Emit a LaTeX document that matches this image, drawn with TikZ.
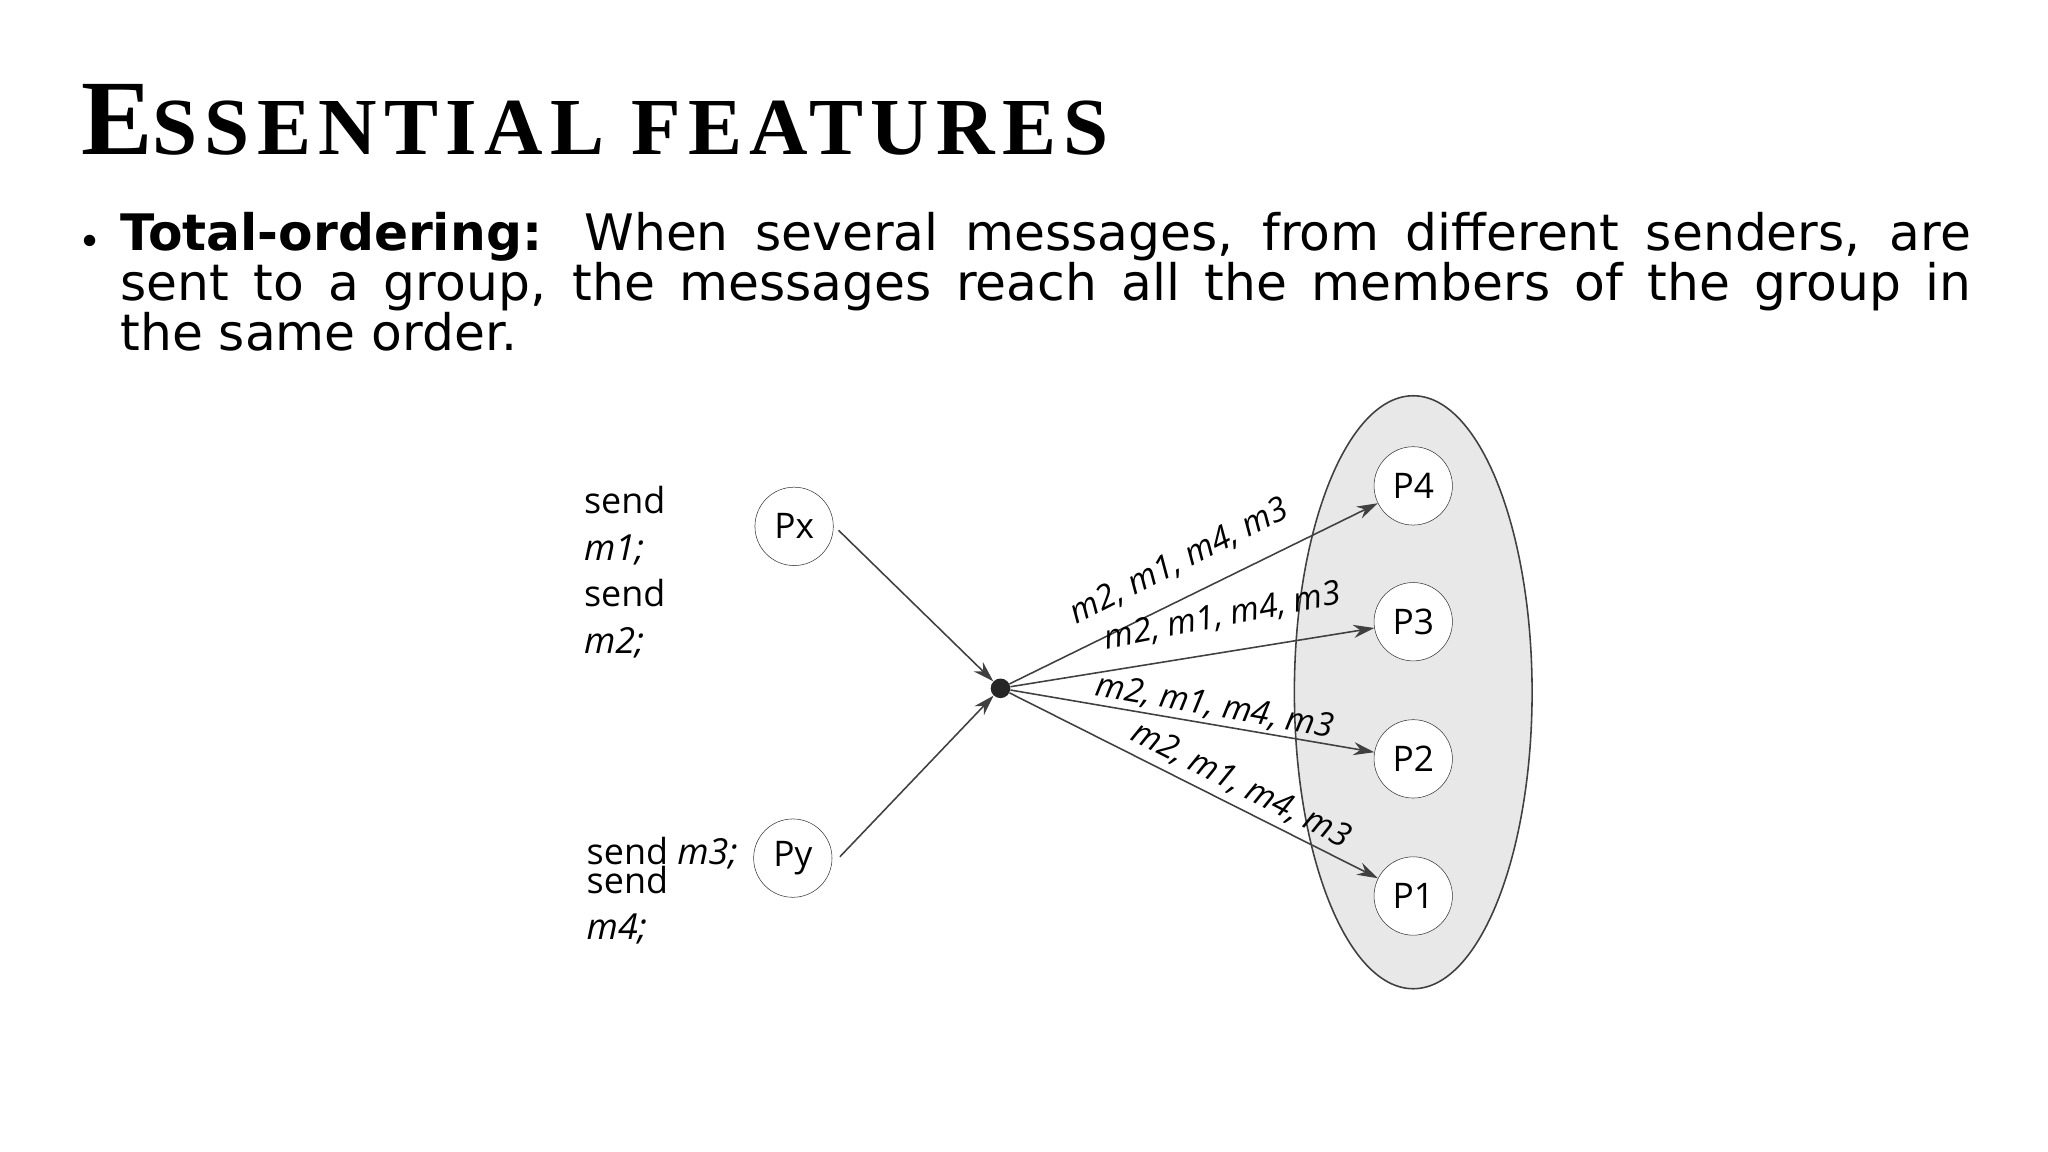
\documentclass[tikz,border=0pt]{standalone}
\usepackage{fontspec}
\setmainfont{DejaVu Sans}
\newfontfamily\titlefont[LetterSpace=9]{Liberation Serif}
\newfontfamily\diafont{Open Sans}
\usetikzlibrary{arrows.meta}
\tikzset{
  proc/.style={circle,draw=black!80,fill=white,minimum size=60pt,inner sep=0pt,font=\diafont\fontsize{27}{30}\selectfont},
  msg/.style={-{Stealth[length=16pt,width=10pt]},draw=black!75,line width=1.2pt},
  lab/.style={font=\diafont\itshape\fontsize{25.5}{27}\selectfont,inner sep=0pt},
  side/.style={font=\diafont\fontsize{27.5}{30}\selectfont,anchor=base west,inner sep=0pt}
}
\begin{document}
\begin{tikzpicture}[x=1pt,y=-1pt]
\useasboundingbox (0,0) rectangle (1568,882);
\node[anchor=base west,inner sep=0pt] (title) at (62,118) {\titlefont\bfseries\fontsize{82}{82}\selectfont E\fontsize{62}{62}\selectfont SSENTIAL FEATURES};
\node[anchor=base west,inner sep=0pt] (bul) at (60,196) {\fontsize{30}{40}\selectfont •};
\node[anchor=north west,inner sep=0pt,text width=1417pt,align=justify] (body) at (92,162)
 {\fontsize{38.5}{42.5}\selectfont \textbf{Total-ordering:} When several messages, from different senders, are\linebreak sent to a group, the messages reach all the members of the group in\linebreak the same order.};
\draw[black!75,fill=black!9,line width=1.2pt] (1082,530) ellipse [x radius=91,y radius=227];
\node[proc] (px) at (608,403) {Px};
\node[proc] (py) at (607,657) {Py};
\node[proc] (p4) at (1082,372) {P4};
\node[proc] (p3) at (1082,476) {P3};
\node[proc] (p2) at (1082,581) {P2};
\node[proc] (p1) at (1082,686) {P1};
\node[circle,fill=black!85,minimum size=15pt,inner sep=0pt] (d) at (766,527) {};
\coordinate (a1) at (642,406); \coordinate (a2) at (643,656);
\draw[msg] (a1) -- (d);
\draw[msg] (a2) -- (d);
\draw[msg] (d) -- (p4);
\draw[msg] (d) -- (p3);
\draw[msg] (d) -- (p2);
\draw[msg] (d) -- (p1);
\node[lab,rotate=27] (l4) at (903,430) {m2, m1, m4, m3};
\node[lab,rotate=11] (l3) at (936,472) {m2, m1, m4, m3};
\node[lab,rotate=-10] (l2) at (930,541) {m2, m1, m4, m3};
\node[lab,rotate=-27] (l1) at (950,601) {m2, m1, m4, m3};
\node[side] (s1) at (447,393) {send};
\node[side] (s2) at (447,429) {\itshape m1;};
\node[side] (s3) at (447,464) {send};
\node[side] (s4) at (447,500) {\itshape m2;};
\node[side] (s5) at (449,662) {send \itshape m3;};
\node[side] (s6) at (449,684) {send};
\node[side] (s7) at (449,719) {\itshape m4;};
\end{tikzpicture}
\end{document}
